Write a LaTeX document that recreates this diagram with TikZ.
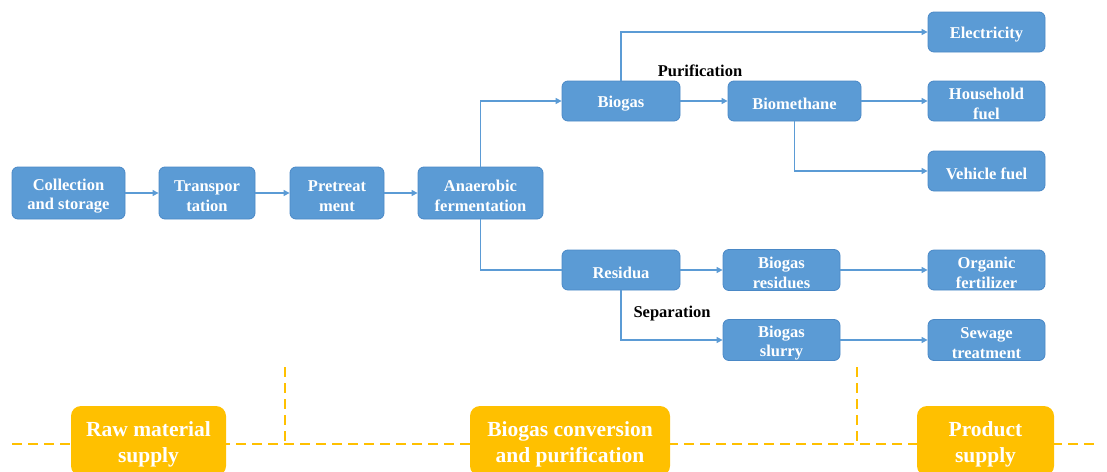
\documentclass[tikz,border=0pt]{standalone}
\usepackage{fontspec}
\setmainfont{Liberation Serif}
\usetikzlibrary{arrows.meta}
\definecolor{boxblue}{HTML}{5B9BD5}
\definecolor{boxedge}{HTML}{4A88C6}
\definecolor{lineblue}{HTML}{5B9BD5}
\definecolor{stageorange}{HTML}{FFC000}
% invisible struts that set the text a little lower in its box
\newcommand\bluelift{\rule{0pt}{17.5pt}}
\newcommand\orangelift{\rule{0pt}{21pt}}
\tikzset{
  stepbox/.style={draw=boxedge, line width=0.8pt, fill=boxblue, rounded corners=6pt,
    text=white, font=\fontsize{16.5}{19.5}\selectfont\bfseries, align=center,
    inner sep=0pt, minimum height=40pt},
  stagebox/.style={fill=stageorange, rounded corners=10pt, text=white,
    font=\fontsize{21.5}{26}\selectfont\bfseries, align=center, inner sep=0pt,
    minimum height=70pt},
  proc/.style={font=\fontsize{16.5}{19.5}\selectfont\bfseries, text=black, inner sep=0pt},
  ln/.style={draw=lineblue, line width=1.1pt},
  arr/.style={ln, -{Triangle[length=6pt,width=6pt]}},
  phase/.style={draw=stageorange, line width=2pt, dash pattern=on 10pt off 6pt}
}
\begin{document}
\begin{tikzpicture}[x=1pt,y=-1pt]
\useasboundingbox (0,0) rectangle (1107,471);
% stage separators
\coordinate (hl) at (12,444);
\coordinate (hr) at (1100,444);
\coordinate (v1t) at (285,367);
\coordinate (v1b) at (285,444);
\coordinate (v2t) at (857,367);
\coordinate (v2b) at (857,444);
\draw[phase] (hl) -- (hr);
\draw[phase] (v1t) -- (v1b);
\draw[phase] (v2t) -- (v2b);
% stage labels
\node[stagebox, minimum width=155pt] (raw) at (148.5,441) {\orangelift Raw material\\supply};
\node[stagebox, minimum width=200pt] (conv) at (570,441) {\orangelift Biogas conversion\\and purification};
\node[stagebox, minimum width=137pt] (prod) at (985.5,441) {\orangelift Product\\supply};
% process chain
\node[stepbox, minimum width=113pt, minimum height=52pt] (coll) at (68.5,193) {\bluelift Collection\\and storage};
\node[stepbox, minimum width=96pt, minimum height=52pt] (trans) at (207,193) {\bluelift Transpor\\tation};
\node[stepbox, minimum width=94pt, minimum height=52pt] (pret) at (337,193) {\bluelift Pretreat\\ment};
\node[stepbox, minimum width=125pt, minimum height=52pt] (anaer) at (480.5,193) {\bluelift Anaerobic\\fermentation};
\node[stepbox, minimum width=118pt] (biogas) at (621,101) {\bluelift Biogas};
\node[stepbox, minimum width=133pt] (biometh) at (794.5,101) {\bluelift Biomethane};
\node[stepbox, minimum width=117pt] (elec) at (986.5,32) {\bluelift Electricity};
\node[stepbox, minimum width=117pt] (house) at (986.5,101) {\bluelift Household\\fuel};
\node[stepbox, minimum width=117pt] (vehicle) at (986.5,171) {\bluelift Vehicle fuel};
\node[stepbox, minimum width=118pt] (residua) at (621,270) {\bluelift Residua};
\node[stepbox, minimum width=117pt, minimum height=41pt] (bres) at (781.5,270) {\bluelift Biogas\\residues};
\node[stepbox, minimum width=117pt, minimum height=41pt] (bslurry) at (781.5,340) {\bluelift Biogas\\slurry};
\node[stepbox, minimum width=117pt] (orgfert) at (986.5,270) {\bluelift Organic\\fertilizer};
\node[stepbox, minimum width=117pt, minimum height=41pt] (sewage) at (986.5,340) {\bluelift Sewage\\treatment};
% process labels
\node[proc] (purif) at (700,71) {Purification};
\node[proc] (separ) at (672,314) {Separation};
% connectors
\draw[arr] (coll) -- (trans);
\draw[arr] (trans) -- (pret);
\draw[arr] (pret) -- (anaer);
\draw[arr] (anaer.north) |- (biogas.west);
\draw[ln] (anaer.south) |- (residua.west);
\draw[arr] (biogas) -- (biometh);
\draw[arr] (biogas.north) |- (elec.west);
\draw[arr] (biometh) -- (house);
\draw[arr] (biometh.south) |- (vehicle.west);
\draw[arr] (residua) -- (bres);
\draw[arr] (residua.south) |- (bslurry.west);
\draw[arr] (bres) -- (orgfert);
\draw[arr] (bslurry) -- (sewage);
\end{tikzpicture}
\end{document}
